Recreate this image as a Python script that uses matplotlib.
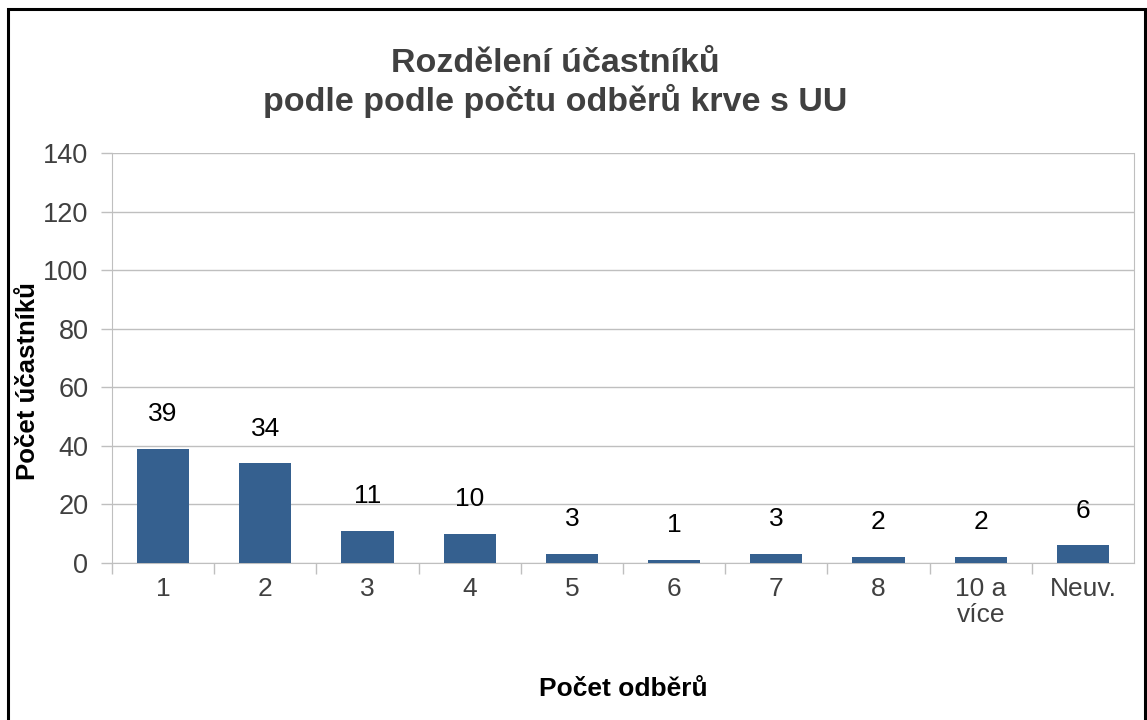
import matplotlib
matplotlib.use("Agg")
import matplotlib.pyplot as plt
from matplotlib.patches import Rectangle

categories = ["1", "2", "3", "4", "5", "6", "7", "8", "10 a\nvíce", "Neuv."]
values = [39, 34, 11, 10, 3, 1, 3, 2, 2, 6]
yticks = [0, 20, 40, 60, 80, 100, 120, 140]

plt.rcParams['font.family'] = ['Liberation Sans', 'DejaVu Sans']

fig = plt.figure(figsize=(11.47, 7.2), dpi=100)
fig.patches.append(Rectangle((8/1147, -0.01), (1145-8)/1147, 1 - 9/720 + 0.01,
                             transform=fig.transFigure, fill=False,
                             edgecolor='black', linewidth=2.2))

ax = fig.add_axes([112/1147, 1 - 563/720, (1134-112)/1147, (563-153)/720])
x = list(range(len(categories)))
bars = ax.bar(x, values, width=0.51, color='#35608F', zorder=3)

ax.set_xlim(-0.5, len(categories) - 0.5)
ax.set_ylim(0, 140)
ax.set_yticks(yticks)
ax.set_yticklabels([str(v) for v in yticks], fontsize=19.5, color='#404040')
ax.yaxis.grid(True, color='#BFBFBF', linewidth=1, zorder=0)
ax.set_axisbelow(True)

ax.set_xticks([i + 0.5 for i in x[:-1]] + [-0.5], minor=False)
ax.set_xticklabels([])
ax.set_xticks(x, minor=True)
ax.set_xticklabels(categories, minor=True, fontsize=19, color='#404040', linespacing=1.1, va='top')
ax.tick_params(axis='x', which='minor', length=0, pad=10)
ax.tick_params(axis='x', which='major', length=8, color='#BFBFBF', width=1)
ax.tick_params(axis='y', length=8, color='#BFBFBF', width=1, pad=9)

ax.spines['top'].set_visible(False)
ax.spines['right'].set_color('#BFBFBF')
ax.spines['left'].set_color('#BFBFBF')
ax.spines['bottom'].set_color('#BFBFBF')

for xi, v in zip(x, values):
    ax.annotate(str(v), (xi, v), xytext=(0, 25), textcoords='offset points',
                ha='center', va='center', fontsize=19, color='black')

ax.set_ylabel("Počet účastníků", fontsize=18.5, fontweight='bold', color='black')
ax.yaxis.set_label_coords(-0.0705, 0.444)
ax.set_xlabel("Počet odběrů", fontsize=19, fontweight='bold', color='black', labelpad=36)

fig.text(555/1147, 1 - 83/720, "Rozdělení účastníků\npodle podle počtu odběrů krve s UU",
         ha='center', va='center', fontsize=24.5, fontweight='bold', color='#404040', linespacing=1.15)

fig.savefig("out.png", dpi=100)
